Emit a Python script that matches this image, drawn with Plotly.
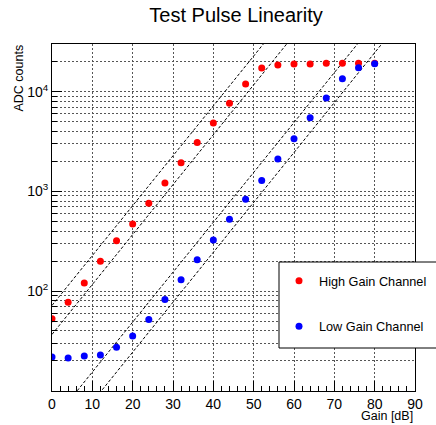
import plotly.graph_objects as go

# ---- data ----
gain_db = [0, 4, 8, 12, 16, 20, 24, 28, 32, 36, 40, 44, 48, 52, 56, 60, 64, 68, 72, 76, 80]
high_gain_adc = [53, 77.6, 121, 200, 321, 472, 759, 1213, 1936, 3090, 4860, 7660, 11940,
                 17260, 18490, 18930, 18930, 19230, 19230, 19230, 19200]
low_gain_adc = [21.9, 21.4, 22.4, 22.9, 27.4, 35.5, 52, 82.6, 130, 207, 326, 525, 832,
                1288, 2108, 3365, 5460, 8650, 13490, 17380, 19050]

# guide band lines (end points in data units at gain 0 and 90 dB)
guide_x = [0, 90]
high_upper = [72, 2.27e6]
high_lower = [36.9, 1.17e6]
low_upper = [4.9, 1.55e5]
low_lower = [2.45, 7.76e4]

y_major = [100, 1000, 10000]
y_major_text = ["10<sup>2</sup>", "10<sup>3</sup>", "10<sup>4</sup>"]
y_minor = [20, 30, 40, 50, 60, 70, 80, 90,
           200, 300, 400, 500, 600, 700, 800, 900,
           2000, 3000, 4000, 5000, 6000, 7000, 8000, 9000, 20000]

FONT = "Liberation Sans, Arial, Helvetica, sans-serif"
GRID = "#555555"

fig = go.Figure()
for ys in (high_upper, high_lower, low_upper, low_lower):
    fig.add_trace(go.Scatter(x=guide_x, y=ys, mode="lines",
                             line=dict(color="black", width=1, dash="3px,2px"),
                             showlegend=False, hoverinfo="skip"))

fig.add_trace(go.Scatter(x=gain_db, y=high_gain_adc, mode="markers",
                         marker=dict(color="#ff0000", size=7),
                         name="High Gain Channel", legendgroup="h"))
fig.add_trace(go.Scatter(x=gain_db, y=low_gain_adc, mode="markers",
                         marker=dict(color="#0000ff", size=7),
                         name="Low Gain Channel", legendgroup="l"))

fig.update_layout(
    width=436, height=425,
    margin=dict(l=52, r=21, t=44, b=34, autoexpand=False),
    paper_bgcolor="white", plot_bgcolor="white",
    font=dict(family=FONT, color="black", size=14),
    title=dict(text="Test Pulse Linearity", font=dict(size=20, family=FONT),
               x=0.507, xref="paper", xanchor="center",
               y=1 - 15 / 425, yref="container", yanchor="middle"),
    xaxis=dict(range=[0, 90], tick0=0, dtick=10, ticks="inside", ticklen=10,
               tickcolor="black", showgrid=True, gridcolor=GRID, griddash="2px,2px",
               gridwidth=1, zeroline=False, showline=True, linecolor="black",
               linewidth=1, mirror=True, tickfont=dict(size=14),
               minor=dict(dtick=2, ticks="inside", ticklen=5, tickcolor="black",
                          showgrid=False)),
    yaxis=dict(type="log", range=[1.0, 4.477], tickmode="array", tickvals=y_major,
               ticktext=y_major_text, ticks="inside", ticklen=10, tickcolor="black",
               showgrid=True, gridcolor=GRID, griddash="2px,2px", gridwidth=1,
               zeroline=False, showline=True, linecolor="black", linewidth=1,
               mirror=True, tickfont=dict(size=14),
               minor=dict(tickmode="array", tickvals=y_minor, ticks="inside",
                          ticklen=5, tickcolor="black", showgrid=True,
                          gridcolor=GRID, griddash="2px,2px", gridwidth=1)),
    showlegend=True,
    legend=dict(x=(279 - 52) / 363, xanchor="left", y=(391 - 266) / 347, yanchor="top",
                bgcolor="rgba(0,0,0,0)", borderwidth=0, font=dict(size=12.7, family=FONT),
                tracegroupgap=26, itemwidth=30),
    shapes=[dict(type="rect", xref="paper", yref="paper",
                 x0=(279 - 52) / 363, x1=(440 - 52) / 363,
                 y0=(391 - 348) / 347, y1=(391 - 262) / 347,
                 line=dict(color="black", width=1), fillcolor="white", layer="above")],
    annotations=[
        dict(text="Gain [dB]", xref="paper", yref="paper", x=1.0, xanchor="right",
             y=(391 - 416) / 347, yanchor="middle", showarrow=False,
             font=dict(size=12.5, family=FONT)),
        dict(text="ADC counts", xref="paper", yref="paper", x=(19 - 52) / 363,
             xanchor="center", y=(391 - 43) / 347, yanchor="top", textangle=-90,
             showarrow=False, font=dict(size=12.5, family=FONT)),
    ],
)

fig.write_html("out.html", config={"displayModeBar": False},
               post_script="document.body.style.margin='0px';document.body.style.overflow='hidden';")
